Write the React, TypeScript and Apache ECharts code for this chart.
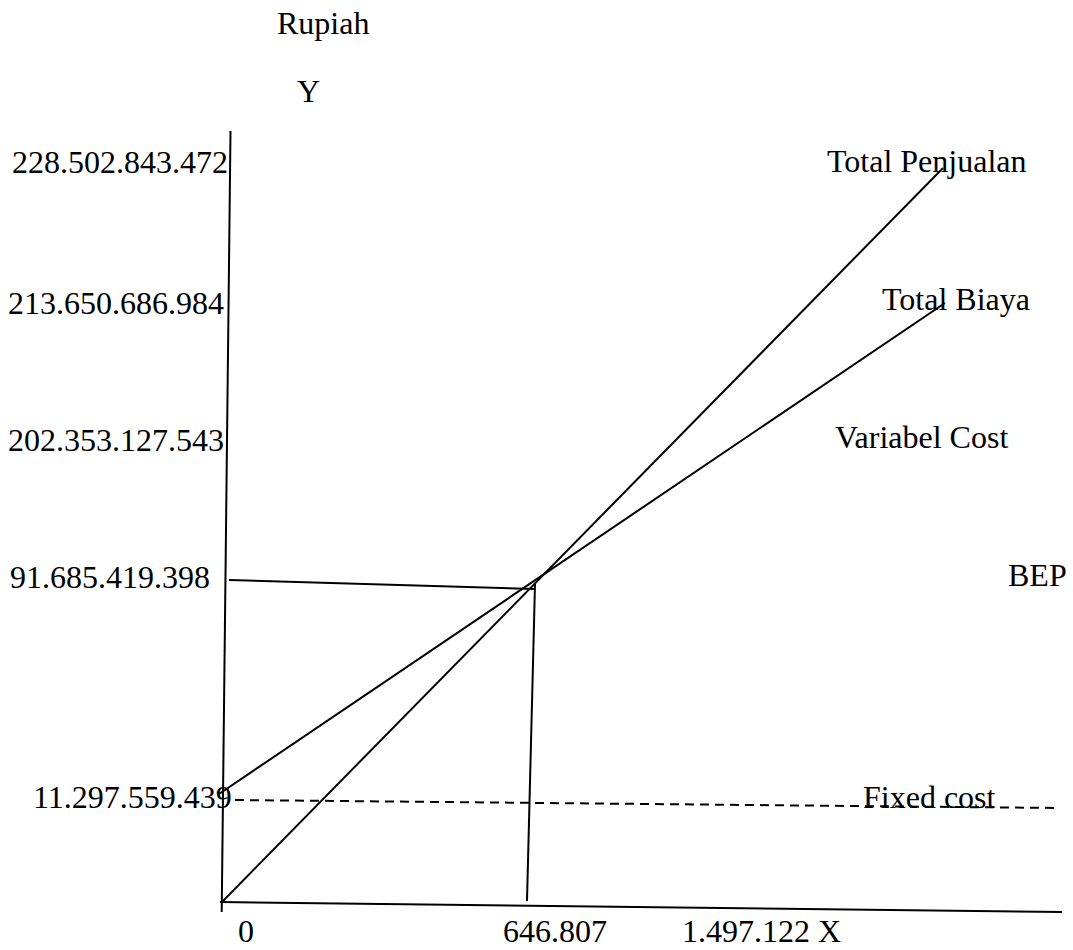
import React, { useEffect, useRef } from "react";
import * as echarts from "echarts";

// Schematic BEP chart (units: drawing units, origin at the axes' intersection)
const yTickLabels = [
  "228.502.843.472",
  "213.650.686.984",
  "202.353.127.543",
  "91.685.419.398",
  "11.297.559.439",
];
const xTickLabels = ["0", "646.807", "1.497.122 X"];
const lineNames = ["Total Penjualan", "Total Biaya", "Variabel Cost", "BEP", "Fixed cost"];

const yAxisLine = [[8.5, 771], [-0.3, -10]];
const xAxisLine = [[-2, 0], [840, -10]];
const totalPenjualan = [[0, 0], [721, 734]];
const totalBiaya = [[-3, 108], [723, 599]];
const fixedCost = [[13, 102], [838, 94]];
const bepHorizontal = [[7, 322], [313, 313]];
const bepVertical = [[313, 318], [305, 1]];

const FONT = '32px "Liberation Serif", "Times New Roman", serif';

function txt(text: string, x: number, y: number) {
  return {
    type: "text",
    x,
    y,
    silent: true,
    style: {
      text,
      font: FONT,
      fill: "#000",
      align: "left",
      verticalAlign: "middle",
      textAlign: "left",
      textVerticalAlign: "middle",
    },
  };
}

export default function App() {
  const ref = useRef<HTMLDivElement>(null);
  useEffect(() => {
    if (!ref.current) return;
    const chart = echarts.init(ref.current, null, { renderer: "svg" });
    const seg = (name: string, data: number[][], dashed = false) => ({
      name,
      type: "line",
      data,
      symbol: "none",
      silent: true,
      lineStyle: { color: "#000", width: 2, type: dashed ? [9, 6] : "solid" },
    });
    const yLabelPos = [
      [12, 162],
      [8, 303],
      [8, 440],
      [10, 577],
      [33, 797],
    ];
    const xLabelPos = [
      [238, 931],
      [503, 931],
      [682, 931],
    ];
    const nameLabelPos = [
      [827, 161],
      [882, 299],
      [835, 437],
      [1008, 575],
      [863, 797],
    ];
    const graphics: any[] = [
      txt("Rupiah", 277, 23),
      txt("Y", 297, 91),
      ...yTickLabels.map((t, i) => txt(t, yLabelPos[i][0], yLabelPos[i][1])),
      ...xTickLabels.map((t, i) => txt(t, xLabelPos[i][0], xLabelPos[i][1])),
      ...lineNames.map((t, i) => txt(t, nameLabelPos[i][0], nameLabelPos[i][1])),
    ];
    chart.setOption({
      animation: false,
      backgroundColor: "#fff",
      grid: { left: 0, right: 0, top: 0, bottom: 0 },
      xAxis: { type: "value", min: -222, max: 851, show: false },
      yAxis: { type: "value", min: -48, max: 902, show: false },
      series: [
        seg("yAxis", yAxisLine),
        seg("xAxis", xAxisLine),
        seg("Total Penjualan", totalPenjualan),
        seg("Total Biaya", totalBiaya),
        seg("Fixed cost", fixedCost, true),
        seg("BEP h", bepHorizontal),
        seg("BEP v", bepVertical),
      ],
      graphic: graphics,
    });
    return () => chart.dispose();
  }, []);
  return (
    <div
      ref={ref}
      style={{ position: "absolute", left: 0, top: 0, width: 1073, height: 950 }}
    />
  );
}
